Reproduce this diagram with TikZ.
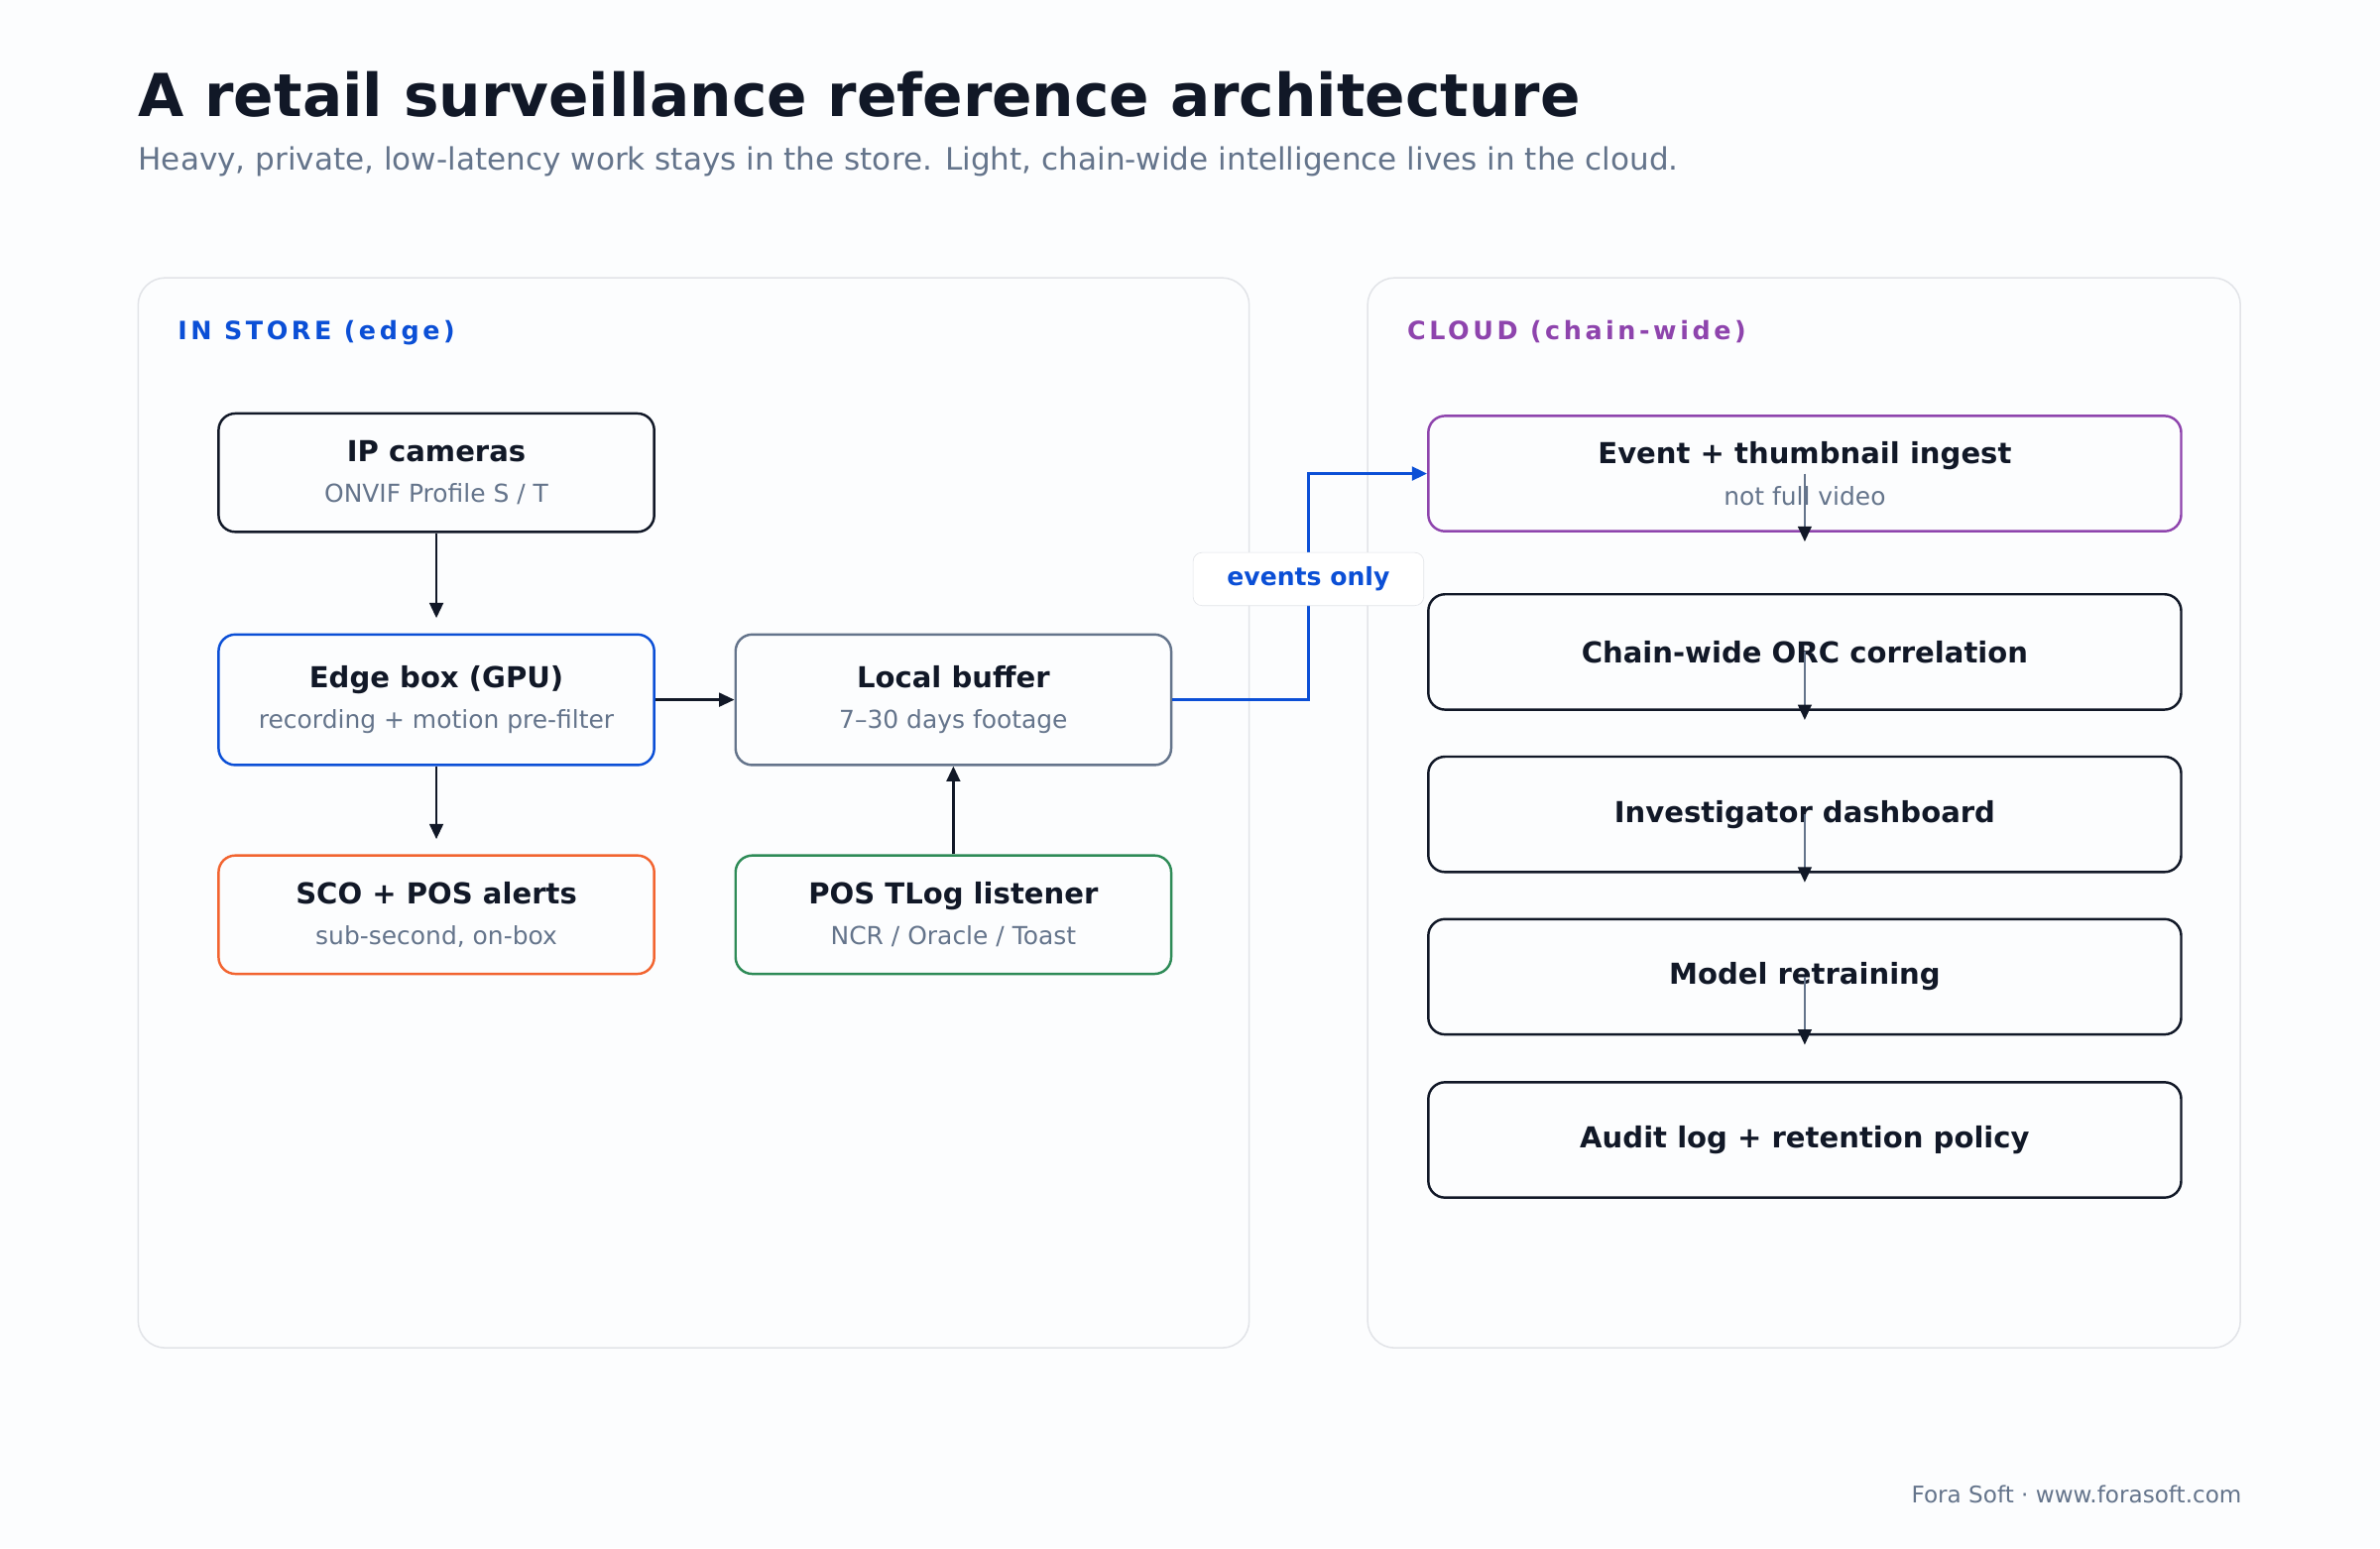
\documentclass[tikz,border=0pt]{standalone}
\usepackage{fontspec}
\setmainfont{DejaVu Sans}
\usetikzlibrary{positioning,arrows.meta}
\definecolor{ink}{HTML}{111827}
\definecolor{muted}{HTML}{64748B}
\definecolor{edgeblue}{HTML}{0B4FD6}
\definecolor{cloudpurple}{HTML}{8E44AD}
\definecolor{alertorange}{HTML}{F26430}
\definecolor{posgreen}{HTML}{2E8B57}
\definecolor{panelline}{HTML}{E2E4E8}
\definecolor{canvas}{HTML}{FCFDFE}
\newcommand{\boxtext}[2]{{\bfseries #1}\\{\fontsize{16.3}{18}\selectfont\color{muted}#2}}
\tikzset{
  panel/.style={draw=panelline, line width=1pt, rounded corners=18pt, fill=canvas},
  block/.style={draw=ink, line width=1.6pt, rounded corners=11pt, fill=canvas,
    minimum width=287pt, align=center, text=ink, font=\fontsize{19}{27}\selectfont},
  cblock/.style={block, minimum width=496pt, minimum height=76pt},
  flow/.style={-{Triangle[length=10pt,width=9pt]}, draw=ink, line width=1.6pt},
  cflow/.style={draw=muted, line width=1.2pt, -{Triangle[length=10pt,width=9pt,fill=ink,color=ink]}}
}
\begin{document}
\begin{tikzpicture}[x=1pt, y=-1pt]
  \fill[canvas] (0,0) rectangle (1568,1020);
  \useasboundingbox (0,0) rectangle (1568,1020);
  % heading
  \node[anchor=base west, inner sep=0pt, text=ink, font=\fontsize{39}{44}\selectfont\bfseries] (title) at (91,77)
    {A retail surveillance reference architecture};
  \node[anchor=base west, inner sep=0pt, text=muted, font=\fontsize{20.3}{24}\selectfont] (subtitle) at (91,112)
    {Heavy, private, low-latency work stays in the store. Light, chain-wide intelligence lives in the cloud.};
  % panels
  \draw[panel] (91,183) rectangle (823,888);
  \draw[panel] (901,183) rectangle (1476,888);
  \node[anchor=base west, inner sep=0pt, text=edgeblue, font=\fontsize{16.6}{18}\selectfont\bfseries\addfontfeature{LetterSpace=14}] (storelbl) at (117,224) {IN STORE (edge)};
  \node[anchor=base west, inner sep=0pt, text=cloudpurple, font=\fontsize{16.6}{18}\selectfont\bfseries\addfontfeature{LetterSpace=14}] (cloudlbl) at (927,224) {CLOUD (chain-wide)};
  % in store
  \node[block, draw=edgeblue, minimum height=86pt] (edge) at (287.5,461) {\boxtext{Edge box (GPU)}{recording + motion pre-filter}};
  \node[block, minimum height=78pt, above=66pt of edge] (cams) {\boxtext{IP cameras}{ONVIF Profile S / T}};
  \node[block, draw=alertorange, minimum height=78pt, below=58pt of edge] (sco) {\boxtext{SCO + POS alerts}{sub-second, on-box}};
  \node[block, draw=muted, minimum height=86pt, right=52pt of edge] (buffer) {\boxtext{Local buffer}{7--30 days footage}};
  \node[block, draw=posgreen, minimum height=78pt, below=58pt of buffer] (tlog) {\boxtext{POS TLog listener}{NCR / Oracle / Toast}};
  \draw[flow, shorten >=10pt] (cams) -- (edge);
  \draw[flow, shorten >=10pt] (edge) -- (sco);
  \draw[flow] (edge) -- (buffer);
  \draw[flow] (tlog) -- (buffer);
  % cloud
  \node[cblock, draw=cloudpurple] (ingest) at (1189,312) {\boxtext{Event + thumbnail ingest}{not full video}};
  \node[cblock] (orc) at (1189,429.5) {\bfseries Chain-wide ORC correlation};
  \node[cblock] (dash) at (1189,536.5) {\bfseries Investigator dashboard};
  \node[cblock] (retrain) at (1189,643.5) {\bfseries Model retraining};
  \node[cblock] (audit) at (1189,751) {\bfseries Audit log + retention policy};
  \foreach \n in {ingest,orc,dash,retrain}
    \draw[cflow] (\n.center) -- ([yshift=-6pt]\n.south);
  % events only link
  \coordinate (bend) at (862,461);
  \draw[draw=edgeblue, line width=2pt, -{Triangle[length=10pt,width=9pt,fill=edgeblue]}]
    (buffer.east) -- (bend) |- (ingest.west);
  \node[draw=panelline, fill=white, rounded corners=6pt, minimum width=152pt, minimum height=35pt,
    text=edgeblue, font=\fontsize{16.4}{18}\selectfont\bfseries] (evlbl) at (862,381.5) {events only};
  % footer
  \node[anchor=base east, inner sep=0pt, text=muted, font=\fontsize{15.1}{17}\selectfont] (footer) at (1477,990)
    {Fora Soft · www.forasoft.com};
\end{tikzpicture}
\end{document}
